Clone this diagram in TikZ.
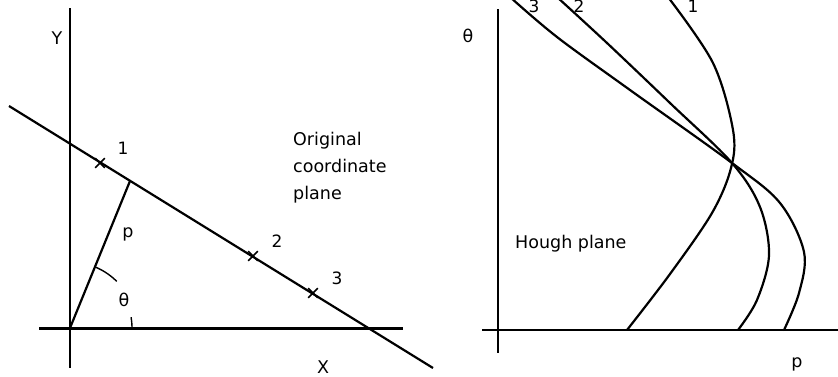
\documentclass[tikz,border=0pt]{standalone}
\usepackage{fontspec}
\setmainfont{DejaVu Sans}
\usetikzlibrary{shapes.misc}
\begin{document}
\begin{tikzpicture}[x=1pt,y=-1pt,
  lbl/.style={font=\fontsize{17.5}{27}\selectfont, inner sep=0pt},
  numlbl/.style={font=\fontsize{17}{20}\selectfont, inner sep=0pt},
  thinaxis/.style={line width=1.3pt},
  thickaxis/.style={line width=3pt},
  mainline/.style={line width=2.2pt},
  anglearc/.style={line width=1.4pt},
  curve/.style={line width=2.2pt, line join=round, line cap=round},
  marker/.style={draw, cross out, minimum size=8pt, inner sep=0pt, line width=1.6pt}]
\useasboundingbox (0,0) rectangle (838,376);
% ---------- left: original coordinate plane ----------
\coordinate (yT) at (70,8);   \coordinate (yB) at (70,368);
\coordinate (xL) at (39,328); \coordinate (xR) at (403,328);
\coordinate (lA) at (9,106);  \coordinate (lB) at (433,368);
\coordinate (O) at (70,328);  \coordinate (F) at (130,181);
\draw[thinaxis] (yT) -- (yB);
\draw[thickaxis] (xL) -- (xR);
\draw[mainline] (lA) -- (lB);
\draw[mainline] (O) -- (F);
\draw[anglearc] plot[domain=45:67, samples=12, smooth] ({70+66*cos(\x)},{328-66*sin(\x)});
\draw[anglearc] plot[domain=0:10, samples=6, smooth] ({70+62*cos(\x)},{328-62*sin(\x)});
\node[marker] (m1) at (100,163) {};
\node[marker] (m2) at (253,256) {};
\node[marker] (m3) at (313,293) {};
\node[numlbl] (n1) at (123,148) {1};
\node[numlbl] (n2) at (277,241) {2};
\node[numlbl] (n3) at (337,278) {3};
\node[lbl] (Ylab) at (57,38) {Y};
\node[lbl] (Xlab) at (323,367) {X};
\node[lbl] (plab) at (128,234) {p};
\node[lbl] (thlab) at (124,300) {θ};
\node[lbl, align=left, anchor=north west] (orig) at (293,132) {Original\\coordinate\\plane};
% ---------- right: Hough plane ----------
\coordinate (tT) at (498,9);   \coordinate (tB) at (498,353);
\coordinate (pL) at (482,330); \coordinate (pR) at (838,330);
\draw[thinaxis] (tT) -- (tB);
\draw[thinaxis] (pL) -- (pR);
\draw[curve] plot[smooth, tension=0.55] coordinates {(668,-3) (713,63) (733,130) (731,168) (712,213) (670,274) (627,330)};
\draw[curve] plot[smooth, tension=0.55] coordinates {(557,-3) (607,43) (670,103) (732,163) (760,207) (769,255) (757,300) (738,330)};
\draw[curve] plot[smooth, tension=0.55] coordinates {(510,-3) (557,37) (630,90) (732,163) (780,203) (804,252) (799,293) (784,330)};
\node[numlbl] (h1) at (693,6) {1};
\node[numlbl] (h2) at (579,6) {2};
\node[numlbl] (h3) at (534,6) {3};
\node[lbl] (thR) at (468,36) {θ};
\node[lbl] (pRl) at (797,364) {p};
\node[lbl, anchor=base west] (hough) at (515,248) {Hough plane};
\end{tikzpicture}
\end{document}
